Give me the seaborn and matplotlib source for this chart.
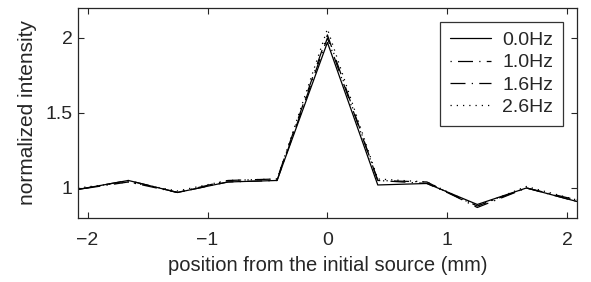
import numpy as np
import pandas as pd
import matplotlib
matplotlib.use("Agg")
import matplotlib.pyplot as plt
import seaborn as sns

# positions (mm) and normalized intensity per frequency
position = [-2.08, -1.66, -1.25, -0.83, -0.42, 0.0, 0.42, 0.83, 1.25, 1.66, 2.08]
freqs = ["0.0Hz", "1.0Hz", "1.6Hz", "2.6Hz"]
i_00 = [0.99, 1.05, 0.97, 1.04, 1.05, 1.97, 1.02, 1.03, 0.89, 1.00, 0.91]
i_10 = [0.99, 1.04, 0.97, 1.05, 1.06, 2.02, 1.05, 1.04, 0.87, 1.00, 0.92]
i_16 = [0.99, 1.05, 0.97, 1.04, 1.05, 2.00, 1.05, 1.03, 0.88, 1.00, 0.91]
i_26 = [1.00, 1.04, 0.98, 1.05, 1.06, 2.06, 1.06, 1.04, 0.88, 1.01, 0.92]

rows = []
for f, vals in zip(freqs, [i_00, i_10, i_16, i_26]):
    for p, v in zip(position, vals):
        rows.append({"position": p, "intensity": v, "freq": f})
df = pd.DataFrame(rows)

sns.set_style("ticks")
plt.rcParams['font.family'] = ['Liberation Sans', 'DejaVu Sans']
plt.rcParams['axes.unicode_minus'] = True

fig = plt.figure(figsize=(5.91, 2.82), dpi=100)
ax = fig.add_axes([0.132, 0.227, 0.844, 0.745])

dash_styles = {"0.0Hz": "", "1.0Hz": (1, 5, 12, 5), "1.6Hz": (12, 5, 1, 5), "2.6Hz": (1, 4)}
sns.lineplot(data=df, x="position", y="intensity", style="freq", style_order=freqs,
             dashes=dash_styles, color="black", linewidth=0.9, ax=ax)

ax.set_xlim(-2.08, 2.08)
ax.set_ylim(0.8, 2.2)
ax.set_xticks([-2, -1, 0, 1, 2])
ax.set_yticks([1, 1.5, 2])
ax.set_yticklabels(["1", "1.5", "2"])
ax.tick_params(direction="in", top=True, right=True, labelsize=14, length=4, width=0.8)
ax.tick_params(axis="x", pad=10)
ax.tick_params(axis="y", pad=4)
for s in ax.spines.values():
    s.set_linewidth(0.9)
    s.set_visible(True)
ax.set_xlabel("position from the initial source (mm)", fontsize=14.5, labelpad=5)
ax.set_ylabel("normalized intensity", fontsize=15, labelpad=6)

leg = ax.legend(loc="upper right", frameon=True, fancybox=False, fontsize=14,
                edgecolor="black", handlelength=2.1, handletextpad=0.6,
                borderaxespad=0.7, labelspacing=0.25, borderpad=0.5)
leg.get_frame().set_linewidth(0.9)

fig.savefig("out.png", dpi=100)
